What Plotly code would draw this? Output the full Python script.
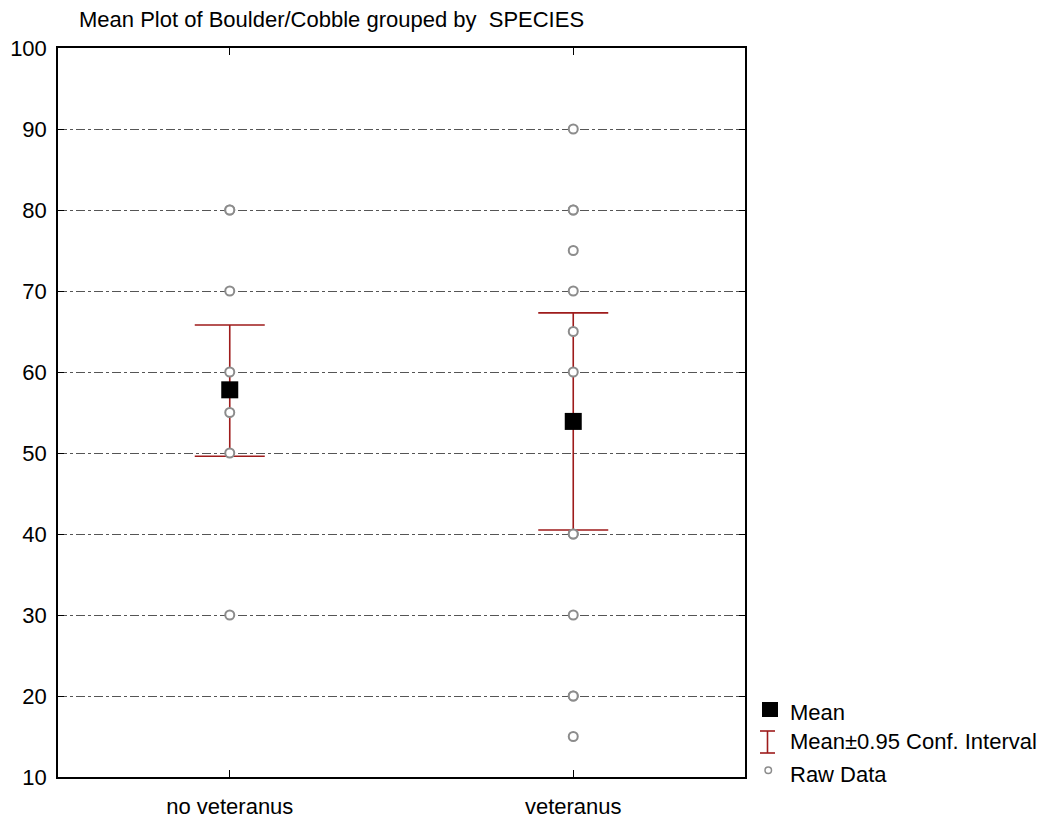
import plotly.graph_objects as go

categories = ["no veteranus", "veteranus"]
means = [57.8, 53.9]
ci_upper = [65.8, 67.3]
ci_lower = [49.6, 40.5]
raw_no_veteranus = [80, 80, 70, 60, 55, 50, 30]
raw_veteranus = [90, 80, 80, 75, 70, 65, 60, 40, 40, 30, 20, 20, 15]
y_ticks = [10, 20, 30, 40, 50, 60, 70, 80, 90, 100]

FONT = "Liberation Sans, Arial, sans-serif"
RED = "#9e1b1b"
GRAY = "#8c8c8c"

# The page body adds an 8px offset; work in page pixels and convert.
OFF = 8
FW, FH = 1042, 810

xpos = list(range(len(categories)))
fig = go.Figure()

# Confidence intervals
fig.add_trace(go.Scatter(
    x=xpos, y=means, mode="markers",
    marker=dict(size=1, color="rgba(0,0,0,0)"),
    error_y=dict(type="data", symmetric=False,
                 array=[u - m for u, m in zip(ci_upper, means)],
                 arrayminus=[m - l for m, l in zip(means, ci_lower)],
                 color=RED, thickness=1.6, width=35),
    showlegend=False, hoverinfo="skip"))

# Raw data
raw_x = [0] * len(raw_no_veteranus) + [1] * len(raw_veteranus)
raw_y = raw_no_veteranus + raw_veteranus
fig.add_trace(go.Scatter(
    x=raw_x, y=raw_y, mode="markers",
    marker=dict(symbol="circle", size=9, color="white",
                line=dict(color=GRAY, width=2)),
    showlegend=False))

# Means
fig.add_trace(go.Scatter(
    x=xpos, y=means, mode="markers",
    marker=dict(symbol="square", size=17, color="black"),
    showlegend=False))

# Plot-area geometry in page pixels (for the manual legend)
L, R, T, B = 58, 745, 48, 777
W, H = R - L, B - T
def px(x):
    return (x - L) / W
def py(y):
    return (B - y) / H

shapes = [
    dict(type="rect", xref="paper", yref="paper",
         x0=px(762), x1=px(778), y0=py(717), y1=py(702),
         fillcolor="black", line=dict(width=0)),
    dict(type="line", xref="paper", yref="paper",
         x0=px(767.5), x1=px(767.5), y0=py(753), y1=py(731),
         line=dict(color=RED, width=1.6)),
    dict(type="line", xref="paper", yref="paper",
         x0=px(760), x1=px(775), y0=py(731), y1=py(731),
         line=dict(color=RED, width=1.6)),
    dict(type="line", xref="paper", yref="paper",
         x0=px(760), x1=px(775), y0=py(753), y1=py(753),
         line=dict(color=RED, width=1.6)),
    dict(type="circle", xref="paper", yref="paper",
         x0=px(765), x1=px(771.5), y0=py(773.5), y1=py(767),
         fillcolor="white", line=dict(color=GRAY, width=1.5)),
]
annotations = [
    dict(text=t, xref="paper", yref="paper", x=px(788), y=py(yy),
         xanchor="left", yanchor="middle", showarrow=False,
         font=dict(family=FONT, size=22, color="black"))
    for t, yy in [("Mean", 712), ("Mean±0.95 Conf. Interval", 741), ("Raw Data", 774)]
]

fig.update_layout(
    width=FW, height=FH,
    margin=dict(l=L - OFF, r=FW - (R - OFF), t=T - OFF, b=FH - (B - OFF), pad=0,
                autoexpand=False),
    paper_bgcolor="white", plot_bgcolor="white",
    title=dict(text="Mean Plot of Boulder/Cobble grouped by  SPECIES",
               x=(79 - OFF) / FW, xanchor="left", y=1 - (19 - OFF) / FH, yanchor="middle",
               font=dict(family=FONT, size=22, color="black")),
    font=dict(family=FONT, size=22, color="black"),
    shapes=shapes, annotations=annotations,
    showlegend=False,
)
fig.update_xaxes(
    range=[-0.5, 1.5], tickvals=xpos, ticktext=categories,
    showgrid=False, zeroline=False, automargin=False,
    showline=True, linecolor="black", linewidth=1.5, mirror="ticks",
    ticks="inside", ticklen=7, tickcolor="black",
    tickfont=dict(family=FONT, size=22), ticklabelstandoff=9,
)
fig.update_yaxes(
    range=[10, 100], tickvals=y_ticks,
    showgrid=True, gridcolor="#555555", gridwidth=1, griddash="dashdot",
    zeroline=False, automargin=False,
    showline=True, linecolor="black", linewidth=1.5, mirror="ticks",
    ticks="inside", ticklen=6, tickcolor="black",
    tickfont=dict(family=FONT, size=22), ticklabelstandoff=5,
)

fig.write_html("out.html")
